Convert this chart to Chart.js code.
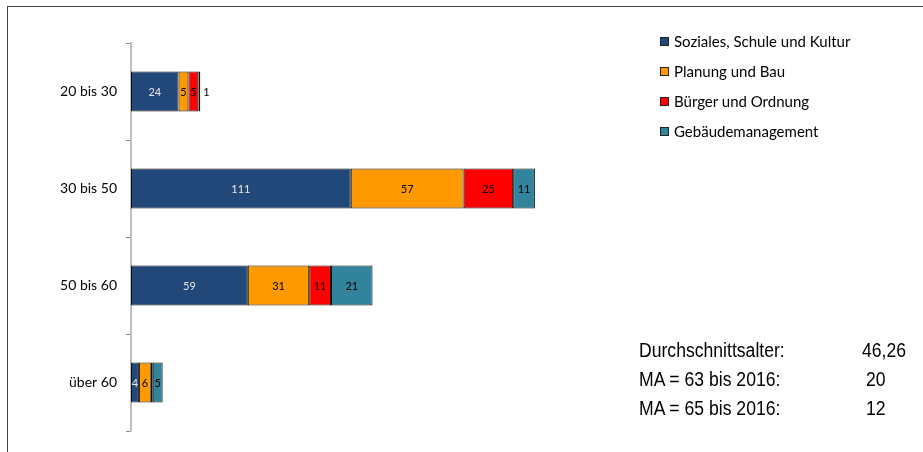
<!DOCTYPE html>
<html>
<head>
<meta charset="utf-8">
<script src="https://cdn.jsdelivr.net/npm/chart.js@4"></script>
<style>
  html, body { margin: 0; padding: 0; background: #fff; }
  #wrap { position: relative; width: 923px; height: 452px; overflow: hidden; }
  #frame { position: absolute; left: 7px; top: 6px; width: 930px; height: 460px;
           border-top: 1px solid #444; border-left: 1px solid #444; }
  canvas { position: absolute; left: 0; top: 0; }
  .legend { position: absolute; left: 660px; font-family: Lato, "Open Sans", sans-serif; font-size: 15px; color: #000; }
  .legend div { position: absolute; left: 0; white-space: nowrap; line-height: 18px; }
  .legend span { display: inline-block; width: 7px; height: 7px; border: 1px solid #222; margin-right: 5px; vertical-align: 1px; }
  .stats { position: absolute; font-family: "Liberation Sans", sans-serif; font-size: 20px; color: #000;
           white-space: nowrap; transform: scaleX(0.88); transform-origin: left center; }
</style>
</head>
<body>
<div id="wrap">
  <div id="frame"></div>
  <canvas id="chart" width="923" height="452"></canvas>
  <div class="legend" id="legend"></div>
  <div id="stats"></div>
</div>
<script>
// age groups and staff counts per department
const categories = ['20 bis 30', '30 bis 50', '50 bis 60', 'über 60'];
const seriesNames = ['Soziales, Schule und Kultur', 'Planung und Bau', 'Bürger und Ordnung', 'Gebäudemanagement'];
const soziales = [24, 111, 59, 4];
const planung = [5, 57, 31, 6];
const buerger = [5, 25, 11, 1];
const gebaeude = [1, 11, 21, 5];
const seriesColors = ['#22487a', '#ff9900', '#ff0000', '#31849b'];
const labelColors = ['#e8e8e8', '#000', '#000', '#000'];

const statLabels = ['Durchschnittsalter:', 'MA = 63 bis 2016:', 'MA = 65 bis 2016:'];
const statValues = ['46,26', '20', '12'];

const seriesValues = [soziales, planung, buerger, gebaeude];

// value labels inside the segments; a narrow last segment gets its label outside
const segmentLabels = {
  id: 'segmentLabels',
  afterDatasetsDraw(chart) {
    const ctx = chart.ctx;
    ctx.save();
    ctx.font = '11px Lato, "Open Sans", sans-serif';
    ctx.textBaseline = 'middle';
    chart.data.datasets.forEach((ds, di) => {
      const meta = chart.getDatasetMeta(di);
      meta.data.forEach((bar, i) => {
        const w = Math.abs(bar.x - bar.base);
        const val = String(ds.data[i]);
        const tw = ctx.measureText(val).width;
        const isLast = di === chart.data.datasets.length - 1;
        if (w >= tw) {
          ctx.textAlign = 'center';
          ctx.fillStyle = labelColors[di];
          ctx.fillText(val, (bar.x + bar.base) / 2, bar.y + 1);
        } else if (isLast) {
          ctx.textAlign = 'left';
          ctx.fillStyle = '#000';
          ctx.fillText(val, bar.x + 3, bar.y + 1);
        }
      });
    });
    ctx.restore();
  }
};

new Chart(document.getElementById('chart'), {
  type: 'bar',
  data: {
    labels: categories,
    datasets: seriesNames.map((name, i) => ({
      label: name,
      data: seriesValues[i],
      backgroundColor: seriesColors[i],
      borderColor: '#111',
      borderWidth: 1,
      borderSkipped: false,
      categoryPercentage: 1,
      barPercentage: 0.41
    }))
  },
  options: {
    indexAxis: 'y',
    responsive: false,
    animation: false,
    events: [],
    layout: { padding: { top: 43, bottom: 21, right: 198, left: 0 } },
    plugins: { legend: { display: false }, tooltip: { enabled: false } },
    scales: {
      x: { stacked: true, display: false, min: 0, max: 300 },
      y: {
        stacked: true,
        afterFit: (scale) => { scale.width = 131; },
        border: { color: '#bfbfbf', width: 2 },
        grid: { drawOnChartArea: false, offset: true, tickLength: 5, color: '#888', tickWidth: 1 },
        ticks: { color: '#000', padding: 9, font: { family: 'Lato, "Open Sans", sans-serif', size: 14 } }
      }
    }
  },
  plugins: [segmentLabels]
});

// legend in the top right
const legendEl = document.getElementById('legend');
seriesNames.forEach((name, i) => {
  const row = document.createElement('div');
  row.style.top = (32 + i * 30) + 'px';
  row.innerHTML = '<span style="background:' + seriesColors[i] + '"></span>' + name;
  legendEl.appendChild(row);
});

// summary numbers bottom right
const statsEl = document.getElementById('stats');
statLabels.forEach((label, i) => {
  const l = document.createElement('div');
  l.className = 'stats';
  l.style.left = '639px';
  l.style.top = (339 + i * 29) + 'px';
  l.textContent = label;
  statsEl.appendChild(l);
  const v = document.createElement('div');
  v.className = 'stats';
  v.style.left = (i === 0 ? 862 : 866) + 'px';
  v.style.top = (339 + i * 29) + 'px';
  v.textContent = statValues[i];
  statsEl.appendChild(v);
});
</script>
</body>
</html>
